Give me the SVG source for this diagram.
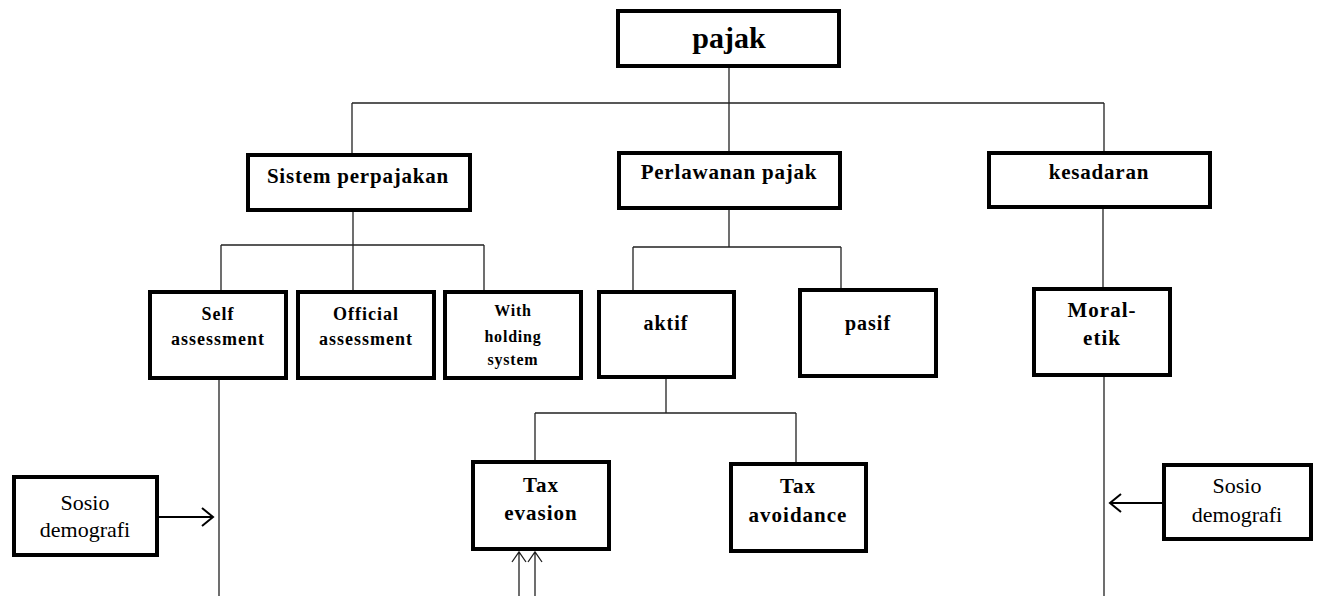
<svg xmlns="http://www.w3.org/2000/svg" width="1317" height="596" viewBox="0 0 1317 596">
<style>
.box{fill:#fff;stroke:#000;stroke-width:4}
.t{font-family:"Liberation Serif","Times New Roman",serif;font-weight:bold;fill:#000;text-anchor:middle}
.r{font-family:"Liberation Serif","Times New Roman",serif;font-size:22px;fill:#000;text-anchor:middle}
.ln{fill:none;stroke:#222;stroke-width:1.3}
.ar{fill:none;stroke:#000;stroke-width:2}
</style>
<g id="connectors">
<path class="ln" d="M729 68V103M352 103H1104M352 103V153M729 103V151M1104 103V151"/>
<path class="ln" d="M353 212V245M221 245H484M221 245V290M353 245V290M484 245V290"/>
<path class="ln" d="M729 210V247M633 247H841M633 247V290M841 247V288"/>
<path class="ln" d="M1103 209V287"/>
<path class="ln" d="M666 379V413M535 413H796M535 413V460M796 413V462"/>
<path class="ln" d="M219 380V596M1104 377V596"/>
<path class="ar" d="M159 517H213M202 508L213 517L202 526"/>
<path class="ar" d="M1162 503H1110M1121 494L1110 503L1121 512"/>
<path class="ln" d="M519 596V552M512 562L519 552L526 562M535 596V552M528 562L535 552L542 562"/>
</g>
<g id="pajak"><rect class="box" x="618" y="11" width="221" height="55"/><text class="t" x="729" y="48" font-size="30">pajak</text></g>
<g id="sistem"><rect class="box" x="248" y="155" width="222" height="55"/><text class="t" x="358" y="183" font-size="21" letter-spacing="0.8">Sistem perpajakan</text></g>
<g id="perlawanan"><rect class="box" x="619" y="153" width="221" height="55"/><text class="t" x="729" y="179" font-size="21" letter-spacing="0.8">Perlawanan pajak</text></g>
<g id="kesadaran"><rect class="box" x="989" y="153" width="221" height="54"/><text class="t" x="1099" y="179" font-size="21" letter-spacing="0.8">kesadaran</text></g>
<g id="self"><rect class="box" x="150" y="292" width="136" height="86"/><text class="t" x="218" y="320" font-size="18" letter-spacing="1">Self</text><text class="t" x="218" y="345" font-size="18" letter-spacing="1">assessment</text></g>
<g id="official"><rect class="box" x="298" y="292" width="136" height="86"/><text class="t" x="366" y="320" font-size="18" letter-spacing="1">Official</text><text class="t" x="366" y="345" font-size="18" letter-spacing="1">assessment</text></g>
<g id="withholding"><rect class="box" x="445" y="292" width="136" height="86"/><text class="t" x="513" y="316" font-size="16" letter-spacing="0.8">With</text><text class="t" x="513" y="342" font-size="16" letter-spacing="0.8">holding</text><text class="t" x="513" y="365" font-size="16" letter-spacing="0.8">system</text></g>
<g id="aktif"><rect class="box" x="599" y="292" width="135" height="85"/><text class="t" x="666" y="330" font-size="20" letter-spacing="1">aktif</text></g>
<g id="pasif"><rect class="box" x="800" y="290" width="136" height="86"/><text class="t" x="868" y="330" font-size="20" letter-spacing="1">pasif</text></g>
<g id="moral"><rect class="box" x="1034" y="289" width="136" height="86"/><text class="t" x="1102" y="317" font-size="21" letter-spacing="1">Moral-</text><text class="t" x="1102" y="345" font-size="21" letter-spacing="1">etik</text></g>
<g id="taxevasion"><rect class="box" x="473" y="462" width="136" height="87"/><text class="t" x="541" y="492" font-size="21" letter-spacing="1">Tax</text><text class="t" x="541" y="520" font-size="21" letter-spacing="1">evasion</text></g>
<g id="taxavoidance"><rect class="box" x="731" y="464" width="135" height="87"/><text class="t" x="798" y="493" font-size="21" letter-spacing="1">Tax</text><text class="t" x="798" y="522" font-size="21" letter-spacing="1">avoidance</text></g>
<g id="sosio-left"><rect class="box" x="14" y="477" width="143" height="78"/><text class="r" x="85" y="510">Sosio</text><text class="r" x="85" y="537">demografi</text></g>
<g id="sosio-right"><rect class="box" x="1164" y="465" width="147" height="74"/><text class="r" x="1237" y="493">Sosio</text><text class="r" x="1237" y="522">demografi</text></g>
</svg>
